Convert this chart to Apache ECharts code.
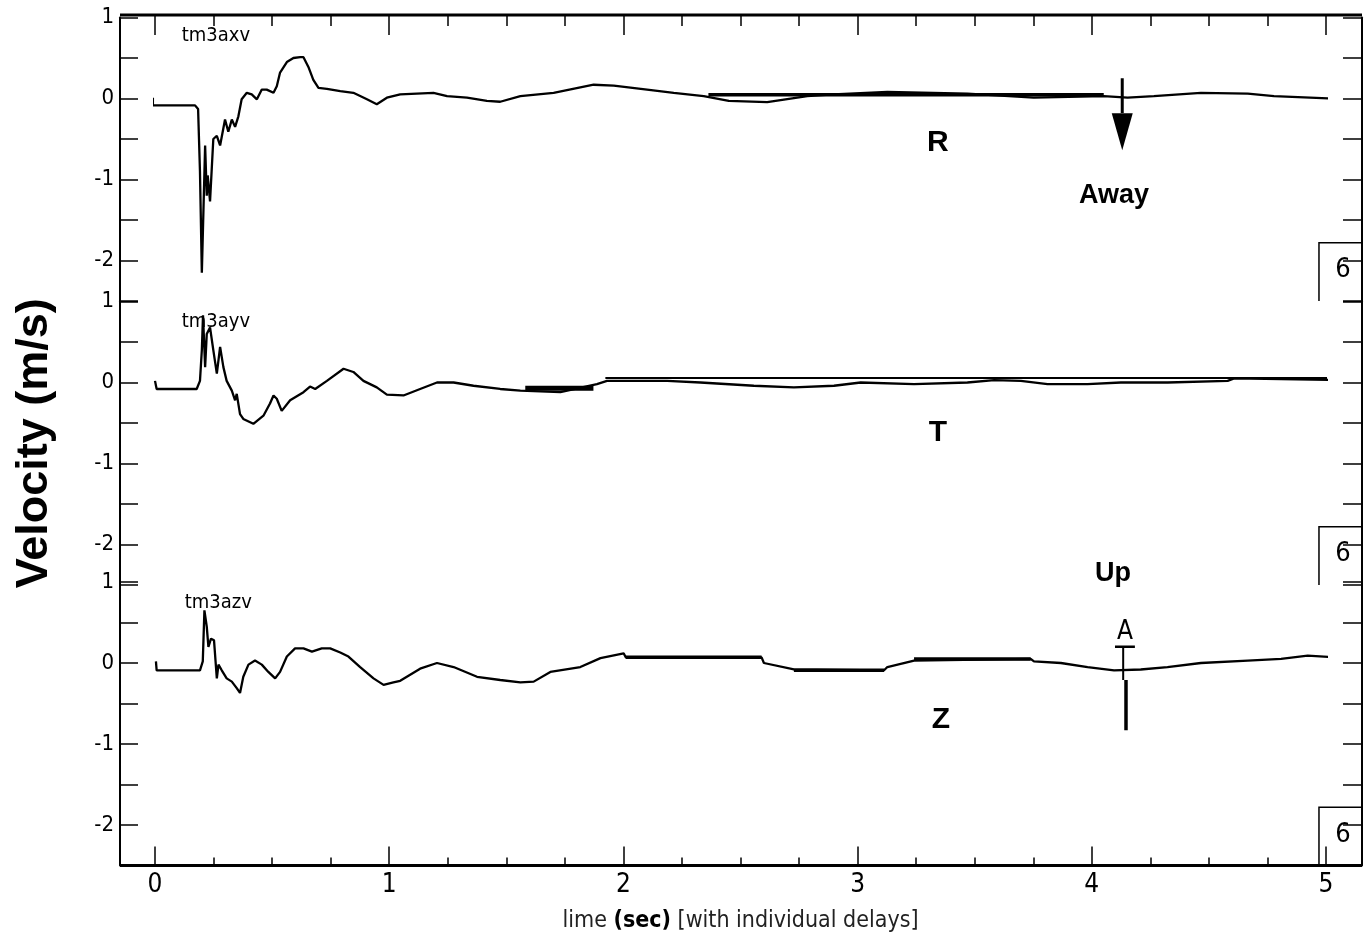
<!DOCTYPE html>
<html>
<head>
<meta charset="utf-8">
<script src="https://cdn.jsdelivr.net/npm/echarts@6/dist/echarts.min.js"></script>
<style>
  html, body { margin: 0; padding: 0; background: #fff; }
  #main { width: 1366px; height: 943px; }
</style>
</head>
<body>
<div id="main"></div>
<script>
// ---- data (time in s, velocity in m/s) ----
var rTime = [-0.009, -0.009, 0.171, 0.184, 0.192, 0.200, 0.214, 0.221, 0.225, 0.235, 0.249, 0.264, 0.278, 0.299, 0.313, 0.328, 0.342, 0.356, 0.370, 0.392, 0.413, 0.435, 0.456, 0.477, 0.506, 0.520, 0.534, 0.563, 0.591, 0.620, 0.634, 0.655, 0.676, 0.698, 0.734, 0.791, 0.847, 0.905, 0.947, 0.990, 1.047, 1.189, 1.247, 1.332, 1.417, 1.474, 1.560, 1.702, 1.873, 1.959, 2.101, 2.215, 2.343, 2.450, 2.614, 2.785, 2.897, 3.127, 3.469, 3.752, 4.051, 4.153, 4.265, 4.466, 4.666, 4.778, 5.021];
var rVel = [0.01, -0.085, -0.085, -0.13, -0.9, -2.15, -0.58, -1.2, -0.95, -1.27, -0.5, -0.46, -0.58, -0.26, -0.41, -0.26, -0.35, -0.22, -0.01, 0.07, 0.05, -0.01, 0.11, 0.11, 0.07, 0.15, 0.32, 0.45, 0.50, 0.51, 0.51, 0.39, 0.23, 0.13, 0.12, 0.09, 0.07, -0.01, -0.07, 0.01, 0.05, 0.07, 0.03, 0.01, -0.03, -0.04, 0.03, 0.07, 0.17, 0.16, 0.11, 0.07, 0.03, -0.03, -0.045, 0.03, 0.05, 0.08, 0.06, 0.01, 0.03, 0.01, 0.03, 0.07, 0.06, 0.03, 0.0];

var tTime = [0.0, 0.007, 0.178, 0.192, 0.200, 0.205, 0.214, 0.221, 0.235, 0.249, 0.264, 0.278, 0.292, 0.306, 0.328, 0.342, 0.349, 0.363, 0.377, 0.420, 0.463, 0.491, 0.506, 0.520, 0.541, 0.577, 0.634, 0.662, 0.684, 0.734, 0.805, 0.847, 0.890, 0.947, 0.990, 1.061, 1.132, 1.204, 1.275, 1.360, 1.474, 1.560, 1.731, 1.887, 1.930, 2.187, 2.329, 2.557, 2.728, 2.899, 3.013, 3.241, 3.469, 3.583, 3.697, 3.811, 3.982, 4.124, 4.324, 4.580, 4.608, 5.036];
var tVel = [0.02, -0.08, -0.08, 0.02, 0.4, 0.83, 0.19, 0.6, 0.68, 0.4, 0.11, 0.44, 0.19, 0.02, -0.1, -0.22, -0.14, -0.39, -0.45, -0.51, -0.41, -0.26, -0.16, -0.2, -0.35, -0.22, -0.12, -0.05, -0.08, 0.02, 0.17, 0.13, 0.02, -0.06, -0.15, -0.16, -0.08, 0.0, 0.0, -0.04, -0.08, -0.1, -0.12, -0.02, 0.02, 0.02, 0.0, -0.04, -0.06, -0.04, 0.0, -0.02, 0.0, 0.03, 0.02, -0.02, -0.02, 0.0, 0.0, 0.02, 0.05, 0.03];

var zTime = [0.004, 0.007, 0.192, 0.204, 0.211, 0.221, 0.228, 0.239, 0.252, 0.264, 0.271, 0.285, 0.306, 0.328, 0.349, 0.363, 0.377, 0.399, 0.427, 0.456, 0.484, 0.513, 0.534, 0.563, 0.598, 0.634, 0.670, 0.712, 0.748, 0.791, 0.826, 0.876, 0.933, 0.976, 1.018, 1.047, 1.132, 1.204, 1.275, 1.375, 1.474, 1.560, 1.617, 1.688, 1.816, 1.902, 2.001, 2.010, 2.590, 2.600, 2.728, 3.113, 3.127, 3.241, 3.739, 3.753, 3.868, 3.982, 4.095, 4.209, 4.323, 4.466, 4.666, 4.808, 4.922, 5.035];
var zVel = [0.02, -0.09, -0.09, 0.02, 0.65, 0.45, 0.2, 0.3, 0.28, -0.19, -0.02, -0.09, -0.19, -0.23, -0.31, -0.37, -0.17, -0.02, 0.03, -0.02, -0.11, -0.19, -0.11, 0.08, 0.18, 0.18, 0.14, 0.18, 0.18, 0.13, 0.08, -0.05, -0.19, -0.27, -0.24, -0.22, -0.07, 0.0, -0.05, -0.17, -0.21, -0.24, -0.23, -0.11, -0.05, 0.06, 0.12, 0.07, 0.07, 0.0, -0.08, -0.09, -0.05, 0.03, 0.05, 0.02, 0.0, -0.05, -0.09, -0.08, -0.05, 0.0, 0.03, 0.05, 0.09, 0.07];

// straight plotted segments (panel, start, end, level)
var segPanel = [0, 1, 1, 2, 2, 2];
var segStart = [2.363, 1.581, 1.923, 2.010, 2.728, 3.241];
var segEnd = [4.051, 1.872, 5.034, 2.590, 3.113, 3.739];
var segLevel = [0.045, -0.07, 0.055, 0.07, -0.09, 0.05];

var traceNames = ['tm3axv', 'tm3ayv', 'tm3azv'];
var componentNames = ['R', 'T', 'Z'];
var xLabelValues = [0, 1, 2, 3, 4, 5];
var yLabelValues = [1, 0, -1, -2];

// ---- layout ----
var PLOT_LEFT = 155, UNIT_X = 234.2;
var PANEL_TOP = [17.5, 301.5, 582], UNIT_Y = 81;
var Y_MIN = -2.5, Y_MAX = 1;
var FRAME_LEFT = 120, FRAME_RIGHT = 1362, FRAME_TOP = 15;
var NARROW = '"Liberation Sans Narrow", "DejaVu Sans Condensed", "Liberation Sans", sans-serif';
var BOLD = '"Liberation Sans", Arial, "DejaVu Sans", sans-serif';
var INK = '#000';

function pairs(xs, ys) {
    return xs.map(function (x, i) { return [x, ys[i]]; });
}

var traces = [pairs(rTime, rVel), pairs(tTime, tVel), pairs(zTime, zVel)];

var grids = [], xAxes = [], yAxes = [], series = [];

PANEL_TOP.forEach(function (top, i) {
    grids.push({
        left: PLOT_LEFT, top: top,
        width: 5 * UNIT_X, height: (Y_MAX - Y_MIN) * UNIT_Y,
        outerBoundsMode: 'none'
    });

    var xa = {
        type: 'value', gridIndex: i, min: 0, max: 5, interval: 1,
        splitLine: { show: false },
        axisLine: { show: false, onZero: false },
        axisTick: { show: false },
        axisLabel: { show: false }
    };
    if (i === 0) {
        xa.position = 'top';
        xa.offset = top - FRAME_TOP;
        xa.axisTick = { show: true, inside: true, length: 20, lineStyle: { color: INK, width: 1.5 } };
        xa.minorTick = { show: true, splitNumber: 4, length: 11, lineStyle: { color: INK, width: 1.5 } };
    }
    if (i === 2) {
        xa.position = 'bottom';
        xa.axisTick = { show: true, inside: true, length: 19, lineStyle: { color: INK, width: 1.5 } };
        xa.minorTick = { show: true, splitNumber: 4, length: 8, lineStyle: { color: INK, width: 1.5 } };
        xa.axisLabel = {
            show: true, margin: 7, color: INK, fontFamily: NARROW, fontSize: 26,
            formatter: function (v) { return xLabelValues.indexOf(v) >= 0 ? String(v) : ''; }
        };
        xa.name = 'lime {b|(sec)} [with individual delays]';
        xa.nameLocation = 'middle';
        xa.nameGap = 44;
        xa.nameTextStyle = {
            color: '#222', fontFamily: NARROW, fontSize: 23,
            rich: { b: { fontFamily: NARROW, fontSize: 23, fontWeight: 'bold', color: INK } }
        };
    }
    xAxes.push(xa);

    // left axis with labels
    yAxes.push({
        type: 'value', gridIndex: i, min: Y_MIN, max: Y_MAX, interval: 0.5,
        position: 'left', offset: PLOT_LEFT - FRAME_LEFT,
        splitLine: { show: false },
        axisLine: { show: true, onZero: false, lineStyle: { color: INK, width: 2 } },
        axisTick: { show: true, inside: true, length: 18, lineStyle: { color: INK, width: 1.5 } },
        axisLabel: {
            margin: 6, color: INK, fontFamily: NARROW, fontSize: 22,
            formatter: function (v) { return yLabelValues.indexOf(v) >= 0 ? String(v) : ''; }
        }
    });
    // right axis, ticks only
    yAxes.push({
        type: 'value', gridIndex: i, min: Y_MIN, max: Y_MAX, interval: 0.5,
        position: 'right', offset: FRAME_RIGHT - (PLOT_LEFT + 5 * UNIT_X),
        splitLine: { show: false },
        axisLine: { show: true, onZero: false, lineStyle: { color: INK, width: 2 } },
        axisTick: { show: true, inside: true, length: 19, lineStyle: { color: INK, width: 1.5 } },
        axisLabel: { show: false }
    });

    series.push({
        name: traceNames[i], type: 'line', xAxisIndex: i, yAxisIndex: 2 * i,
        data: traces[i], showSymbol: false, clip: false, silent: true,
        lineStyle: { color: INK, width: 2.3 }
    });
});

segPanel.forEach(function (p, k) {
    series.push({
        type: 'line', xAxisIndex: p, yAxisIndex: 2 * p,
        data: [[segStart[k], segLevel[k]], [segEnd[k], segLevel[k]]],
        showSymbol: false, clip: false, silent: true,
        lineStyle: { color: INK, width: k === 2 ? 2 : (k === 1 ? 5 : 3.5) }
    });
});

// "Away" arrow (panel R) and "A" pick (panel Z)
var arrowShaft = [[4.13, 0.25], [4.13, -0.18]];
var arrowHead = [[4.13, -0.41]];
var pickBar = [[4.099, 0.2], [4.184, 0.2]];
var pickUpper = [[4.134, 0.2], [4.134, -0.21]];
var pickLower = [[4.146, -0.21], [4.146, -0.83]];

series.push({ type: 'line', xAxisIndex: 0, yAxisIndex: 0, data: arrowShaft, showSymbol: false, silent: true, lineStyle: { color: INK, width: 3 } });
series.push({ type: 'scatter', xAxisIndex: 0, yAxisIndex: 0, data: arrowHead, symbol: 'triangle', symbolRotate: 180, symbolSize: [21, 37], silent: true, itemStyle: { color: INK, opacity: 1 } });
series.push({ type: 'line', xAxisIndex: 2, yAxisIndex: 4, data: pickBar, showSymbol: false, silent: true, lineStyle: { color: INK, width: 2.5 } });
series.push({ type: 'line', xAxisIndex: 2, yAxisIndex: 4, data: pickUpper, showSymbol: false, silent: true, lineStyle: { color: INK, width: 2 } });
series.push({ type: 'line', xAxisIndex: 2, yAxisIndex: 4, data: pickLower, showSymbol: false, silent: true, lineStyle: { color: INK, width: 3.5 } });

var chart = echarts.init(document.getElementById('main'), null, { renderer: 'canvas' });
chart.setOption({
    backgroundColor: '#fff',
    animation: false,
    textStyle: { fontFamily: NARROW },
    grid: grids,
    xAxis: xAxes,
    yAxis: yAxes,
    series: series
});

// ---- annotations placed through the panels' own coordinates ----
function toPx(panel, t, v) {
    return chart.convertToPixel({ gridIndex: panel }, [t, v]);
}

var notes = [
    // panel, t, v, text, size, bold
    [0, 0.26, 0.78, 'tm3axv', 20, false],
    [1, 0.26, 0.75, 'tm3ayv', 20, false],
    [2, 0.27, 0.74, 'tm3azv', 20, false],
    [0, 3.343, -0.55, 'R', 30, true],
    [1, 3.343, -0.62, 'T', 30, true],
    [2, 3.356, -0.70, 'Z', 30, true],
    [0, 4.095, -1.2, 'Away', 27, true],
    [1, 4.09, -2.36, 'Up', 27, true],
    [2, 4.142, 0.38, 'A', 26, false]
];

var graphics = [];
notes.forEach(function (n) {
    var p = toPx(n[0], n[1], n[2]);
    graphics.push({
        type: 'text', x: p[0], y: p[1], silent: true,
        style: {
            text: n[3], fill: INK, align: 'center', verticalAlign: 'middle',
            fontSize: n[4], fontWeight: n[5] ? 'bold' : 'normal',
            fontFamily: n[5] ? BOLD : NARROW
        }
    });
});

// top and bottom frame lines
var bottomY = toPx(2, 0, Y_MIN)[1];
graphics.push({ type: 'line', silent: true, shape: { x1: FRAME_LEFT, y1: FRAME_TOP, x2: FRAME_RIGHT, y2: FRAME_TOP }, style: { stroke: INK, lineWidth: 3 } });
graphics.push({ type: 'line', silent: true, shape: { x1: FRAME_LEFT, y1: bottomY, x2: FRAME_RIGHT, y2: bottomY }, style: { stroke: INK, lineWidth: 3 } });

// small "6" boxes in the lower right corner of each panel
[0, 1, 2].forEach(function (p) {
    var tl = toPx(p, 4.97, -1.78);
    var bl = toPx(p, 4.97, Y_MIN);
    graphics.push({
        type: 'polyline', silent: true,
        shape: { points: [[tl[0], bl[1]], [tl[0], tl[1]], [FRAME_RIGHT, tl[1]]] },
        style: { stroke: INK, lineWidth: 1.5, fill: null }
    });
    var six = toPx(p, 5.073, -2.12);
    graphics.push({
        type: 'text', x: six[0], y: six[1], silent: true,
        style: { text: '6', fill: INK, align: 'center', verticalAlign: 'middle', fontSize: 27, fontFamily: NARROW }
    });
});

// vertical axis title
var midY = toPx(1, 0, -0.75)[1];
graphics.push({
    type: 'text', x: 35, y: midY, rotation: Math.PI / 2, silent: true,
    style: { text: 'Velocity (m/s)', fill: INK, align: 'center', verticalAlign: 'middle', fontSize: 45, fontWeight: 'bold', fontFamily: BOLD }
});

chart.setOption({ graphic: graphics });
</script>
</body>
</html>
